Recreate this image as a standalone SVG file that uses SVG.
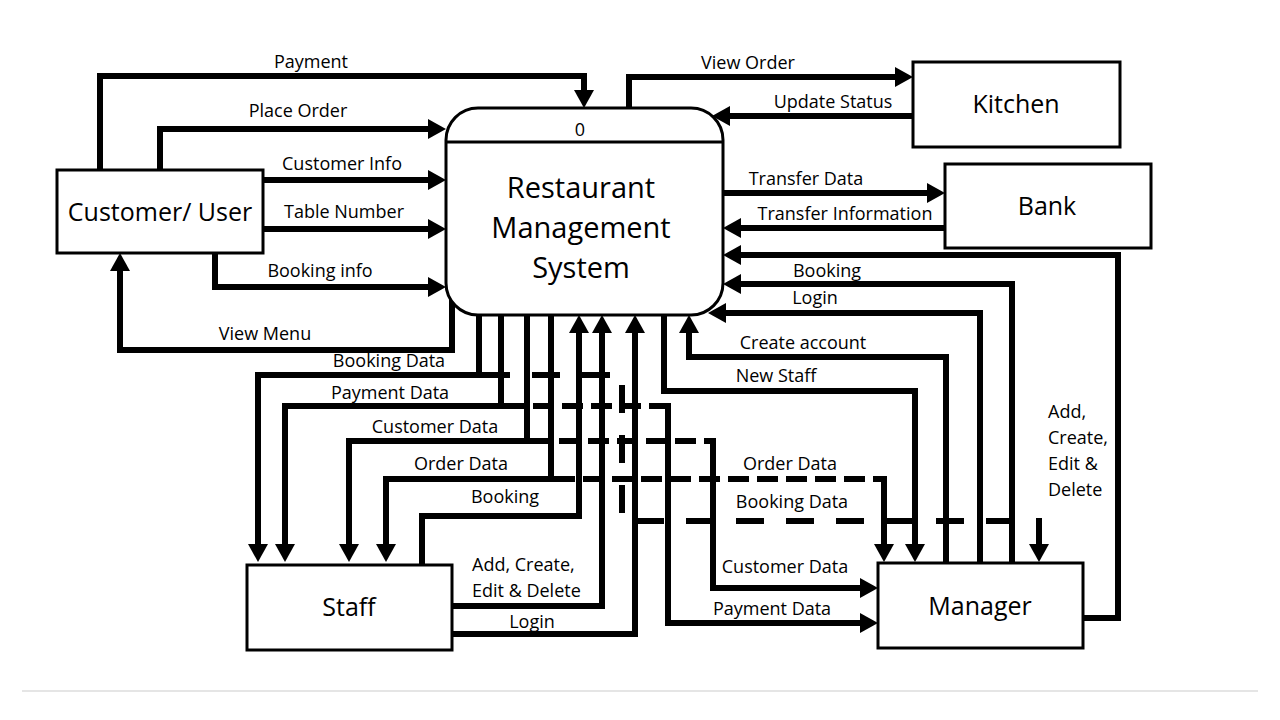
<svg xmlns="http://www.w3.org/2000/svg" width="1280" height="720" viewBox="0 0 1280 720">
<defs>
<style>
.box{fill:#fff;stroke:#000;stroke-width:3}
.node{font-family:"Open Sans","Liberation Sans",sans-serif;font-size:25px;fill:#000;text-anchor:middle}
.big{font-family:"Open Sans","Liberation Sans",sans-serif;font-size:29px;fill:#000;text-anchor:middle}
.lbl{font-family:"Open Sans","Liberation Sans",sans-serif;font-size:18px;fill:#000;text-anchor:middle}
.lbs{font-family:"Open Sans","Liberation Sans",sans-serif;font-size:18px;fill:#000;text-anchor:start}
.f{fill:none;stroke:#000;stroke-width:6;stroke-linejoin:miter}
.a{marker-end:url(#ah)}
.d1{stroke-dasharray:28 22}
.d2{stroke-dasharray:21 8}
</style>
<marker id="ah" viewBox="0 0 18 20" refX="8" refY="10" markerWidth="18" markerHeight="20" markerUnits="userSpaceOnUse" orient="auto">
<path d="M0,0 L18,10 L0,20 Z" fill="#000"/>
</marker>
</defs>
<rect width="1280" height="720" fill="#fff"/>
<line x1="22" y1="691" x2="1258" y2="691" stroke="#dcdcdc" stroke-width="1.5"/>

<g id="connectors">
<path class="f a" d="M100,170 V76 H584 V98"/>
<path class="f a" d="M160,170 V129 H436"/>
<path class="f a" d="M263,180 H436"/>
<path class="f a" d="M263,229 H436"/>
<path class="f a" d="M215,253 V287 H436"/>
<path class="f a" d="M452,298 V350 H120 V263"/>
<path class="f a" d="M629,108 V77 H903"/>
<path class="f a" d="M913,116 H722"/>
<path class="f a" d="M723,193 H935"/>
<path class="f a" d="M945,228 H733"/>
<path class="f a" d="M1083,618 H1118 V255 H733"/>
<path class="f a" d="M1012,563 V284 H733"/>
<path class="f a" d="M980,563 V313 H718"/>
<path class="f a" d="M946,563 V357 H689 V325"/>
<path class="f a" d="M664,315 V391 H915 V552"/>
<path class="f a" d="M479,315 V375 H258 V552"/>
<path class="f a" d="M501,315 V406 H285 V552"/>
<path class="f a" d="M527,315 V441 H349 V552"/>
<path class="f a" d="M551,315 V479 H386 V552"/>
<path class="f a" d="M422,565 V516 H579 V325"/>
<path class="f a" d="M452,606 H602 V325"/>
<path class="f a" d="M452,634 H635 V325"/>
<path class="f d1" d="M482,375 H622 V521 H1039"/>
<path class="f a" d="M1039,518 V552"/>
<path class="f d2" d="M504,406 H668"/>
<path class="f a" d="M668,403 V623 H868"/>
<path class="f d2" d="M530,441 H713"/>
<path class="f a" d="M713,438 V588 H868"/>
<path class="f d2" d="M554,479 H884"/>
<path class="f a" d="M884,476 V552"/>
</g>

<g id="labels">
<text class="lbl" x="311" y="68">Payment</text>
<text class="lbl" x="298" y="117">Place Order</text>
<text class="lbl" x="342" y="170">Customer Info</text>
<text class="lbl" x="344" y="218">Table Number</text>
<text class="lbl" x="320" y="277">Booking info</text>
<text class="lbl" x="265" y="340">View Menu</text>
<text class="lbl" x="748" y="69">View Order</text>
<text class="lbl" x="833" y="108">Update Status</text>
<text class="lbl" x="806" y="185">Transfer Data</text>
<text class="lbl" x="845" y="220">Transfer Information</text>
<text class="lbl" x="827" y="277">Booking</text>
<text class="lbl" x="815" y="304">Login</text>
<text class="lbl" x="803" y="349">Create account</text>
<text class="lbl" x="776" y="382">New Staff</text>
<text class="lbs" x="1048" y="418">Add,</text>
<text class="lbs" x="1048" y="444">Create,</text>
<text class="lbs" x="1048" y="470">Edit &amp;</text>
<text class="lbs" x="1048" y="496">Delete</text>
<text class="lbl" x="389" y="367">Booking Data</text>
<text class="lbl" x="390" y="399">Payment Data</text>
<text class="lbl" x="435" y="433">Customer Data</text>
<text class="lbl" x="461" y="470">Order Data</text>
<text class="lbl" x="505" y="503">Booking</text>
<text class="lbs" x="472" y="571">Add, Create,</text>
<text class="lbs" x="472" y="597">Edit &amp; Delete</text>
<text class="lbl" x="532" y="628">Login</text>
<text class="lbl" x="790" y="470">Order Data</text>
<text class="lbl" x="792" y="508">Booking Data</text>
<text class="lbl" x="785" y="573">Customer Data</text>
<text class="lbl" x="772" y="615">Payment Data</text>
</g>

<g id="process">
<rect class="box" x="446" y="108" width="277" height="207" rx="32" ry="32"/>
<line x1="446" y1="142" x2="723" y2="142" stroke="#000" stroke-width="3"/>
<text class="lbl" x="580" y="136">0</text>
<text class="big" x="581" y="198">Restaurant</text>
<text class="big" x="581" y="238">Management</text>
<text class="big" x="581" y="278">System</text>
</g>
<g id="customer">
<rect class="box" x="57" y="170" width="206" height="83"/>
<text class="node" x="160" y="221">Customer/ User</text>
</g>
<g id="kitchen">
<rect class="box" x="913" y="62" width="207" height="85"/>
<text class="node" x="1016" y="113">Kitchen</text>
</g>
<g id="bank">
<rect class="box" x="945" y="164" width="206" height="84"/>
<text class="node" x="1047" y="215">Bank</text>
</g>
<g id="staff">
<rect class="box" x="247" y="565" width="205" height="85"/>
<text class="node" x="349" y="616">Staff</text>
</g>
<g id="manager">
<rect class="box" x="878" y="563" width="205" height="85"/>
<text class="node" x="980" y="615">Manager</text>
</g>
</svg>
